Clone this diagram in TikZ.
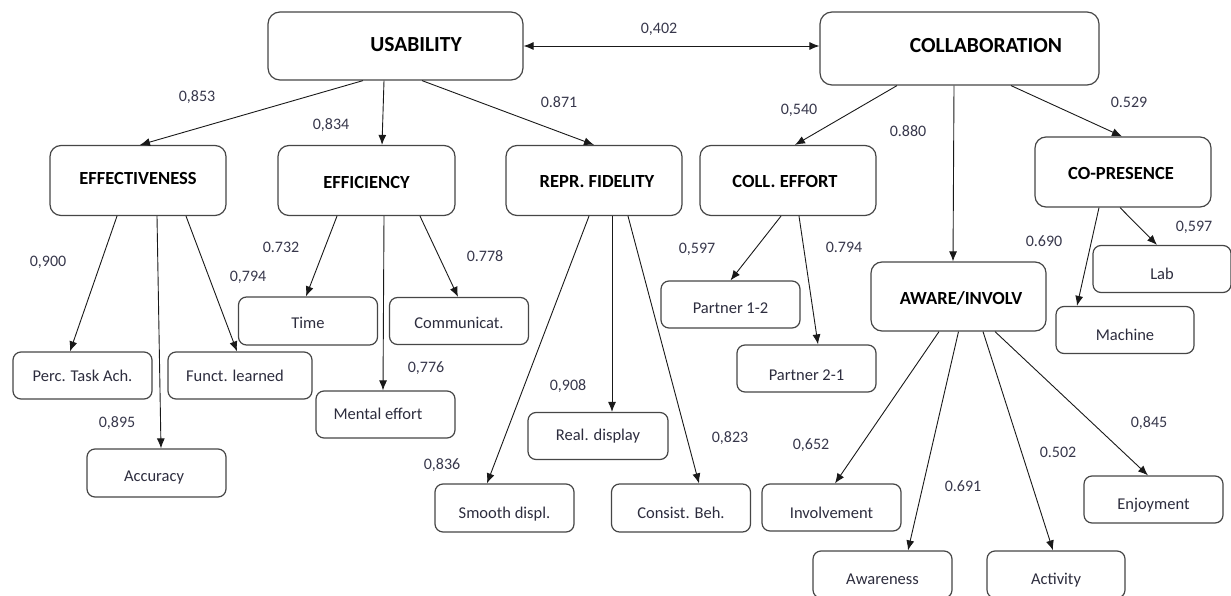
\documentclass[tikz,border=0pt]{standalone}
\usepackage{fontspec}
\setmainfont{Carlito}
\usetikzlibrary{arrows.meta}
\definecolor{boxc}{RGB}{70,70,70}
\definecolor{txtc}{RGB}{45,45,62}
\definecolor{numc}{RGB}{55,55,75}
\definecolor{linec}{RGB}{25,25,25}
\begin{document}
\begin{tikzpicture}[x=1pt,y=-1pt,
  box/.style={draw=boxc, line width=1.2pt, fill=white, inner sep=0pt, text depth=0pt},
  sbox/.style={box, rounded corners=8pt, minimum width=139pt, minimum height=47pt,
    font=\fontsize{16.5}{18}\selectfont, text=txtc},
  hbox/.style={box, rounded corners=11pt, minimum width=176pt, minimum height=70pt,
    font=\bfseries\fontsize{18.5}{20}\selectfont, text=black},
  tbox/.style={hbox, rounded corners=12pt, font=\bfseries\fontsize{21.5}{23}\selectfont},
  num/.style={font=\fontsize{16}{18}\selectfont, text=numc, inner sep=0pt},
  arr/.style={-{Latex[length=10pt,width=8pt]}, line width=0.9pt, draw=linec},
  darr/.style={{Latex[length=10pt,width=8pt]}-{Latex[length=10pt,width=8pt]}, line width=0.9pt, draw=linec}]
\useasboundingbox (0,0) rectangle (1231,596);

% top-level constructs
\node[tbox, minimum width=255pt, minimum height=68pt, text height=12pt] (usab) at (395.5,46) {\hspace*{41pt}USABILITY};
\node[tbox, minimum width=279pt, minimum height=73pt, text height=8pt] (coll) at (959.5,48.5) {\hspace*{53pt}COLLABORATION};

% second level
\node[hbox, text height=9pt] (effe) at (138,180.5) {EFFECTIVENESS};
\node[hbox, minimum width=177pt, text height=17pt] (effi) at (366.5,180.5) {EFFICIENCY};
\node[hbox, text height=15pt] (repr) at (594,180.5) {\hspace*{6pt}REPR. FIDELITY};
\node[hbox, text height=15pt] (ceff) at (788,180.5) {COLL. EFFORT\hspace*{6pt}};
\node[hbox, text height=16pt] (copr) at (1123,172) {CO-PRESENCE\hspace*{4pt}};
\node[hbox, minimum width=175pt, minimum height=69pt, text height=15pt] (awar) at (958.5,296.5) {\hspace*{5pt}AWARE/INVOLV};

% indicators
\node[sbox, text height=12pt] (perc) at (82.5,375.5) {Perc. Task Ach.};
\node[sbox, minimum width=144pt, text height=12pt] (func) at (240,375.5) {Funct. learned\hspace*{10pt}};
\node[sbox, minimum height=48pt, text height=17pt] (accu) at (156.5,473) {Accuracy\hspace*{5pt}};
\node[sbox, minimum height=48pt, text height=15pt] (time) at (308,321) {Time};
\node[sbox, text height=15pt] (comm) at (459,321) {Communicat.};
\node[sbox, text height=10pt] (ment) at (385.5,414.5) {Mental effort\hspace*{15pt}};
\node[sbox, minimum height=48pt, text height=21pt] (smoo) at (504.5,508) {Smooth displ.};
\node[sbox, minimum width=140pt, text height=9pt] (real) at (598,436) {Real. display};
\node[sbox, minimum height=48pt, text height=21pt] (cons) at (681,508) {Consist. Beh.};
\node[sbox, text height=18pt] (p12) at (730.5,304.5) {Partner 1-2};
\node[sbox, text height=24pt] (p21) at (806.5,368.5) {Partner 2-1};
\node[sbox, minimum width=138pt, text height=21pt] (lab) at (1162,269) {Lab};
\node[sbox, minimum width=138pt, text height=21pt] (mach) at (1125,330) {Machine};
\node[sbox, text height=22pt] (invo) at (831.5,507.5) {Involvement};
\node[sbox, text height=20pt] (enjo) at (1153.5,499.5) {Enjoyment};
\node[sbox, text height=20pt] (awan) at (882.5,574.5) {Awareness};
\node[sbox, minimum width=138pt, text height=20pt] (acti) at (1056,574.5) {Activity};

% correlation between the two constructs
\draw[darr] (usab.east) -- (usab.east -| coll.west);

% usability branches
\draw[arr] ([xshift=-32.5pt]usab.south) -- ([xshift=2pt]effe.north);
\draw[arr] ([xshift=-11.5pt]usab.south) -- ([xshift=15.5pt]effi.north);
\draw[arr] ([xshift=26.5pt]usab.south) -- ([xshift=0pt]repr.north);

% collaboration branches
\draw[arr] ([xshift=-62.5pt]coll.south) -- ([xshift=7pt]ceff.north);
\draw[arr] ([xshift=-5.5pt]coll.south) -- ([xshift=-5.5pt]awar.north);
\draw[arr] ([xshift=51.5pt]coll.south) -- ([xshift=-1pt]copr.north);

% effectiveness
\draw[arr] ([xshift=-21pt]effe.south) -- ([xshift=-12.5pt]perc.north);
\draw[arr] ([xshift=19pt]effe.south) -- ([xshift=4.5pt]accu.north);
\draw[arr] ([xshift=48pt]effe.south) -- ([xshift=-3pt]func.north);

% efficiency
\draw[arr] ([xshift=-29.5pt]effi.south) -- ([xshift=-2pt]time.north);
\draw[arr] ([xshift=17.5pt]effi.south) -- ([xshift=-2.5pt]ment.north);
\draw[arr] ([xshift=53.5pt]effi.south) -- ([xshift=-1pt]comm.north);

% representational fidelity
\draw[arr] ([xshift=-5pt]repr.south) -- ([xshift=-17.5pt]smoo.north);
\draw[arr] ([xshift=18pt]repr.south) -- ([xshift=14pt]real.north);
\draw[arr] ([xshift=34pt]repr.south) -- ([xshift=18pt]cons.north);

% collaborative effort
\draw[arr] ([xshift=-7pt]ceff.south) -- ([xshift=0pt]p12.north);
\draw[arr] ([xshift=11pt]ceff.south) -- ([xshift=11.5pt]p21.north);

% co-presence
\draw[arr] ([xshift=-24pt]copr.south) -- ([xshift=-48pt]mach.north);
\draw[arr] ([xshift=-3pt]copr.south) -- ([xshift=-5pt]lab.north);

% awareness / involvement
\draw[arr] ([xshift=-19.5pt]awar.south) -- ([xshift=3.5pt]invo.north);
\draw[arr] ([xshift=0pt]awar.south) -- ([xshift=25.5pt]awan.north);
\draw[arr] ([xshift=24.5pt]awar.south) -- ([xshift=-3pt]acti.north);
\draw[arr] ([xshift=36.5pt]awar.south) -- ([xshift=-5.5pt]enjo.north);

% loadings
\node[num] (n402) at (659,29) {0,402};
\node[num] (n853) at (197,97) {0,853};
\node[num] (n834) at (331,125) {0,834};
\node[num] (n871) at (559,102) {0.871};
\node[num] (n540) at (799,110) {0,540};
\node[num] (n880) at (908,131) {0.880};
\node[num] (n529) at (1129,102) {0.529};
\node[num] (n900) at (48,262) {0,900};
\node[num] (n732) at (281,247) {0.732};
\node[num] (n794a) at (248,277) {0,794};
\node[num] (n778) at (485,256) {0.778};
\node[num] (n895) at (117,423) {0,895};
\node[num] (n776) at (426,368) {0,776};
\node[num] (n908) at (568,386) {0,908};
\node[num] (n836) at (442,465) {0,836};
\node[num] (n823) at (730,438) {0,823};
\node[num] (n597a) at (697,249) {0,597};
\node[num] (n794b) at (844,247) {0.794};
\node[num] (n597b) at (1194,227) {0,597};
\node[num] (n690) at (1044,241) {0.690};
\node[num] (n652) at (811,445) {0,652};
\node[num] (n691) at (963,486) {0.691};
\node[num] (n502) at (1058,452) {0.502};
\node[num] (n845) at (1149,423) {0,845};
\end{tikzpicture}
\end{document}
